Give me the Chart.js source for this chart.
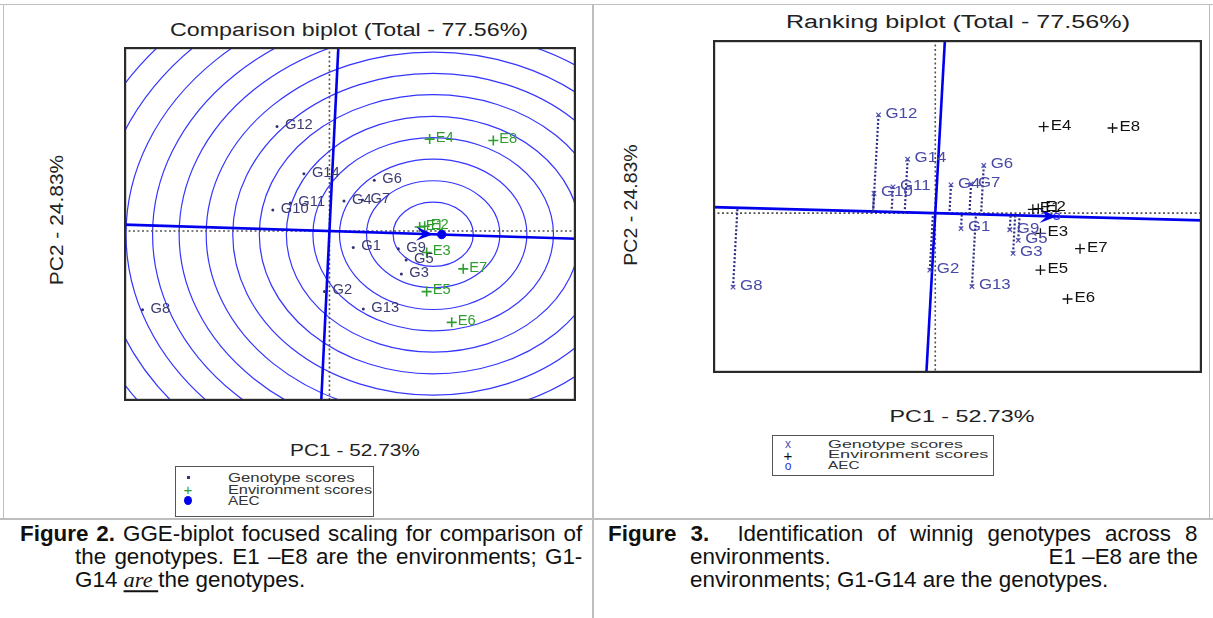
<!DOCTYPE html>
<html><head><meta charset="utf-8">
<script src="https://cdn.jsdelivr.net/npm/chart.js@4.4.1/dist/chart.umd.min.js"></script>
<style>
html,body{margin:0;padding:0;background:#fff}
body{width:1213px;height:618px;overflow:hidden;position:relative;font-family:"Liberation Sans",Arial,Helvetica,sans-serif;color:#222}
.t{position:absolute;white-space:nowrap;line-height:1}
.c{transform-origin:50% 50%}
.l{transform-origin:0 50%}
.hl{position:absolute;background:#bdbdbd}
.cap{position:absolute;white-space:nowrap;font-family:"Liberation Sans",Arial,sans-serif;font-size:21.5px;line-height:1;color:#111;transform-origin:0 50%}
.capr{transform-origin:100% 50%}
.box{position:absolute;border:1px solid #555;background:#fff}
canvas{position:absolute}
</style></head>
<body>
<!-- table rules -->
<div class="hl" style="left:0;top:4px;width:1213px;height:1px"></div>
<div class="hl" style="left:3px;top:4px;width:1px;height:515px"></div>
<div class="hl" style="left:592px;top:4px;width:2px;height:614px"></div>
<div class="hl" style="left:1209px;top:4px;width:1px;height:515px"></div>
<div class="hl" style="left:0;top:518px;width:1213px;height:2px"></div>

<!-- left panel texts -->
<div class="t c" data-w="358" data-m="c" style="left:349px;top:30px;font-size:18px">Comparison biplot (Total - 77.56%)</div>
<div class="t c" data-w="130" data-m="c" style="left:355px;top:450px;font-size:17px">PC1 - 52.73%</div>
<div class="t c" data-w="130" data-m="r" style="left:56px;top:220px;font-size:19px">PC2 - 24.83%</div>
<canvas id="cmp" width="452" height="354" style="left:124px;top:47px"></canvas>
<div class="box" style="left:175px;top:466px;width:197px;height:49px"></div>
<div class="t" style="left:187px;top:476px;width:3px;height:3px;background:#333380"></div>
<div class="t c" style="left:188px;top:489px;font-size:15px;color:#2a9a2a;transform:translate(-50%,-50%)">+</div>
<div class="t" style="left:184px;top:496px;width:8px;height:9px;border-radius:50%;background:#0000ee"></div>
<div class="t l" data-w="127" data-m="l" style="left:228px;top:478px;font-size:12px;color:#333">Genotype scores</div>
<div class="t l" data-w="144" data-m="l" style="left:228px;top:489.5px;font-size:12px;color:#333">Environment scores</div>
<div class="t l" data-w="32" data-m="l" style="left:228px;top:500.5px;font-size:12px;color:#333">AEC</div>

<!-- right panel texts -->
<div class="t c" data-w="344" data-m="c" style="left:958px;top:22px;font-size:18px">Ranking biplot (Total - 77.56%)</div>
<div class="t c" data-w="145" data-m="c" style="left:962px;top:416px;font-size:17px">PC1 - 52.73%</div>
<div class="t c" data-w="121" data-m="r" style="left:630px;top:205px;font-size:19px">PC2 - 24.83%</div>
<canvas id="rnk" width="489" height="333" style="left:713px;top:40px"></canvas>
<div class="box" style="left:772px;top:435px;width:220px;height:39px"></div>
<div class="t c" style="left:788px;top:444px;font-size:12px;color:#5050b0;transform:translate(-50%,-50%)">x</div>
<div class="t c" style="left:788px;top:455px;font-size:15px;color:#111;transform:translate(-50%,-50%)">+</div>
<div class="t c" style="left:788px;top:466px;font-size:12px;color:#3030e0;transform:translate(-50%,-50%)">o</div>
<div class="t l" data-w="135" data-m="l" style="left:828px;top:444.5px;font-size:11.5px;color:#333">Genotype scores</div>
<div class="t l" data-w="161" data-m="l" style="left:828px;top:455px;font-size:11.5px;color:#333">Environment scores</div>
<div class="t l" data-w="32" data-m="l" style="left:828px;top:465.5px;font-size:11.5px;color:#333">AEC</div>

<!-- captions -->
<div class="cap" id="capref" data-w="562" style="left:20px;top:535px"><b>Figure 2.</b> GGE-biplot focused scaling for comparison of</div>
<div class="cap" data-w="507" style="left:75px;top:558px">the genotypes. E1 –E8 are the environments; G1-</div>
<div class="cap" style="left:75px;top:581px">G14 <i style="font-family:'Liberation Serif',serif;text-decoration:underline;text-decoration-thickness:2px;text-underline-offset:3px">are </i>the genotypes.</div>
<div class="cap" data-w="590" style="left:608px;top:535px"><b>Figure 3.</b>&nbsp; Identification of winnig genotypes across 8</div>
<div class="cap" style="left:690px;top:558px">environments.</div>
<div class="cap capr" style="left:1198px;top:558px">E1 –E8 are the</div>
<div class="cap" style="left:690px;top:581px">environments; G1-G14 are the genotypes.</div>

<script>
// ---------- data (PC scores) ----------
const genotypes = ['G1','G2','G3','G4','G5','G6','G7','G8','G9','G10','G11','G12','G13','G14'];
const genoPC1 = [0.475,-0.10,1.435,0.29,1.53,0.895,0.66,-3.73,1.375,-1.13,-0.78,-1.047,0.676,-0.51];
const genoPC2 = [-0.41,-1.505,-1.065,0.745,-0.72,1.26,0.77,-1.955,-0.44,0.52,0.695,2.596,-1.94,1.425];
const environments = ['E1','E2','E3','E4','E5','E6','E7','E8'];
const envPC1 = [1.80,1.90,1.94,2.00,1.94,2.44,2.67,3.27];
const envPC2 = [0.10,0.12,-0.535,2.285,-1.505,-2.27,-0.94,2.25];
const aecPoint = [2.24,-0.087];
const idealPoint = [2.07,-0.080];
const ringRadii = [0.8,1.33,1.87,2.4,2.93,3.47,4.0,4.53,5.07,5.6,6.13,6.67,7.2,7.73];
const pc1Range = [-4.1,4.92];
const pc2Range = [-4.225,4.575];

// ---------- text fitting ----------
document.querySelectorAll('.t[data-w]').forEach(el=>{
  const s = parseFloat(el.dataset.w)/el.offsetWidth;
  const m = el.dataset.m;
  if(m==='c') el.style.transform=`translate(-50%,-50%) scale(${s},1)`;
  else if(m==='l') el.style.transform=`translateY(-50%) scale(${s},1)`;
  else if(m==='r') el.style.transform=`translate(-50%,-50%) rotate(-90deg) scale(${s},1)`;
});
const capScale = 550/document.getElementById('capref').offsetWidth;
document.querySelectorAll('.cap').forEach(el=>{
  const r = el.classList.contains('capr');
  if(el.dataset.w){
    const tw = parseFloat(el.dataset.w)/capScale, w = el.offsetWidth;
    const spaces = (el.textContent.match(/[ \u00a0]/g)||[]).length;
    if(w < tw) el.style.wordSpacing = ((tw-w)/spaces)+'px';
  }
  el.style.transform = (r?'translate(-100%,-50%) ':'translateY(-50%) ')+`scale(${capScale},1)`;
});

// ---------- chart helpers ----------
const genoPts = genotypes.map((g,i)=>({x:genoPC1[i],y:genoPC2[i]}));
const envPts = environments.map((e,i)=>({x:envPC1[i],y:envPC2[i]}));
const a = {x:aecPoint[0], y:aecPoint[1]};
const aLen2 = a.x*a.x + a.y*a.y;
const far = 10;
const abscissa = [{x:-far*a.x,y:-far*a.y},{x:far*a.x,y:far*a.y}];
const ordinate = [{x:far*a.y,y:-far*a.x},{x:-far*a.y,y:far*a.x}];

function P(chart,x,y){return [chart.scales.x.getPixelForValue(x), chart.scales.y.getPixelForValue(y)];}

function backgroundPlugin(withRings){
  return {id:'bg', beforeDatasetsDraw(chart){
    const {ctx, chartArea:ca} = chart;
    ctx.save(); ctx.beginPath(); ctx.rect(ca.left,ca.top,ca.width,ca.height); ctx.clip();
    if(withRings){
      const [cx,cy] = P(chart, idealPoint[0], idealPoint[1]);
      ctx.strokeStyle='#3535ff'; ctx.lineWidth=1.2;
      ringRadii.forEach(r=>{
        const rx = chart.scales.x.getPixelForValue(idealPoint[0]+r)-cx;
        const ry = cy-chart.scales.y.getPixelForValue(idealPoint[1]+r);
        ctx.beginPath(); ctx.ellipse(cx,cy,rx,ry,0,0,Math.PI*2); ctx.stroke();
      });
    }
    const [ox,oy] = P(chart,0,0);
    ctx.strokeStyle='#555'; ctx.lineWidth=1.6; ctx.setLineDash([2,2.5]);
    ctx.beginPath(); ctx.moveTo(ca.left,oy); ctx.lineTo(ca.right,oy); ctx.stroke();
    ctx.beginPath(); ctx.moveTo(ox,ca.top); ctx.lineTo(ox,ca.bottom); ctx.stroke();
    ctx.restore();
  }};
}
function frameLabelPlugin(opt){
  return {id:'fl', afterDatasetsDraw(chart){
    const {ctx} = chart;
    const tip = opt.arrowTo;
    const [tx,ty] = P(chart,tip[0],tip[1]);
    const [ox,oy] = P(chart,0,0);
    let dx=tx-ox, dy=ty-oy; const L=Math.hypot(dx,dy); dx/=L; dy/=L;
    const nx=-dy, ny=dx;
    ctx.save(); ctx.fillStyle='#0000ee';
    ctx.beginPath(); ctx.moveTo(tx,ty);
    ctx.lineTo(tx-17*dx+7*nx, ty-17*dy+7*ny);
    ctx.lineTo(tx-10*dx, ty-10*dy);
    ctx.lineTo(tx-17*dx-7*nx, ty-17*dy-7*ny);
    ctx.closePath(); ctx.fill(); ctx.restore();
    ctx.save(); ctx.font='14px "Liberation Sans", Arial, sans-serif'; ctx.textBaseline='middle';
    const lab=(txt,x,y,col,off,sx)=>{ctx.fillStyle=col; ctx.save(); ctx.translate(x+off,y-1); ctx.scale(sx,1); ctx.fillText(txt,0,0); ctx.restore();};
    genotypes.forEach((g,i)=>{const [x,y]=P(chart,genoPC1[i],genoPC2[i]); lab(g,x,y,opt.gCol,opt.gOff,opt.sx);});
    environments.forEach((e,i)=>{const [x,y]=P(chart,envPC1[i],envPC2[i]); lab(e,x,y,opt.eCol,opt.eOff,opt.sx);});
    ctx.restore();
  }, afterDraw(chart){
    const {ctx, chartArea:ca} = chart;
    ctx.save(); ctx.strokeStyle='#2a2a2a'; ctx.lineWidth=2.2;
    ctx.strokeRect(ca.left+1.1,ca.top+1.1,ca.width-2.2,ca.height-2.2); ctx.restore();
  }};
}
const baseOptions = {
  responsive:false, animation:false, events:[],
  plugins:{legend:{display:false}, tooltip:{enabled:false}, title:{display:false}},
  layout:{padding:0, autoPadding:false},
  scales:{
    x:{type:'linear', min:pc1Range[0], max:pc1Range[1], display:false},
    y:{type:'linear', min:pc2Range[0], max:pc2Range[1], display:false}
  }
};
const lineDS = (data,col,w,order,dash)=>({type:'scatter',data,showLine:true,pointRadius:0,borderColor:col,borderWidth:w,borderDash:dash||[],order});

// ---------- comparison biplot ----------
new Chart(document.getElementById('cmp'), {
  type:'scatter',
  data:{datasets:[
    lineDS(abscissa,'#0000ee',2.6,5),
    lineDS(ordinate,'#0000ee',2.6,5),
    {data:genoPts, pointStyle:'circle', pointRadius:1.5, backgroundColor:'#333370', borderColor:'#333370', borderWidth:0, order:2},
    {data:envPts, pointStyle:'cross', pointRadius:5, borderColor:'#2e9e2e', borderWidth:1.6, order:2},
    {data:[{x:aecPoint[0],y:aecPoint[1]}], pointStyle:'circle', pointRadius:4.2, backgroundColor:'#0000ee', borderColor:'#0000ee', order:1}
  ]},
  options:baseOptions,
  plugins:[backgroundPlugin(true), frameLabelPlugin({arrowTo:idealPoint, gCol:'#3c3c70', eCol:'#2e9e2e', gOff:8, eOff:6, sx:1.05})]
});

// ---------- ranking biplot ----------
const projDS = genoPts.map(g=>{
  const t=(g.x*a.x+g.y*a.y)/aLen2;
  return lineDS([g,{x:t*a.x,y:t*a.y}],'#2d2d85',2.2,4,[2,2]);
});
new Chart(document.getElementById('rnk'), {
  type:'scatter',
  data:{datasets:[
    lineDS(abscissa,'#0000ee',2.6,5),
    lineDS(ordinate,'#0000ee',2.6,5),
    ...projDS,
    {data:genoPts, pointStyle:'crossRot', pointRadius:3.2, borderColor:'#5050b0', borderWidth:1.2, order:2},
    {data:envPts, pointStyle:'cross', pointRadius:5, borderColor:'#111', borderWidth:1.3, order:2},
    {data:[{x:aecPoint[0],y:aecPoint[1]}], pointStyle:'circle', pointRadius:3, backgroundColor:'rgba(0,0,0,0)', borderColor:'#3030ee', borderWidth:1.2, order:1}
  ]},
  options:baseOptions,
  plugins:[backgroundPlugin(false), frameLabelPlugin({arrowTo:aecPoint, gCol:'#4848a8', eCol:'#111', gOff:7, eOff:7, sx:1.2})]
});
</script>
</body></html>
